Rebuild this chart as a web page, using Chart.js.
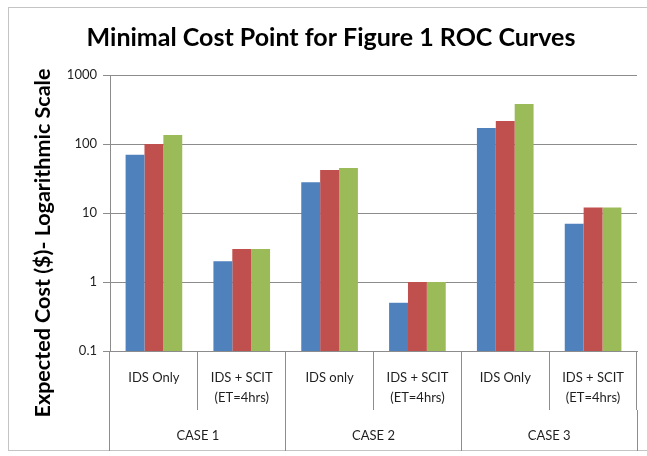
<!DOCTYPE html>
<html><head><meta charset="utf-8">
<script src="https://cdn.jsdelivr.net/npm/chart.js@4/dist/chart.umd.min.js"></script>
<style>html,body{margin:0;padding:0;background:#fff}#wrap{width:647px;height:456px}</style>
</head><body><div id="wrap"><canvas id="c" width="647" height="456"></canvas></div>
<script>
const categories = [['IDS Only'], ['IDS + SCIT', '(ET=4hrs)'], ['IDS only'], ['IDS + SCIT', '(ET=4hrs)'], ['IDS Only'], ['IDS + SCIT', '(ET=4hrs)']];
const cases = ['CASE 1', 'CASE 2', 'CASE 3'];
const seriesBlue = [70, 2, 28, 0.5, 170, 7];
const seriesRed = [100, 3, 42, 1, 215, 12];
const seriesGreen = [135, 3, 45, 1, 380, 12];
const yTicks = [0.1, 1, 10, 100, 1000];
const titleText = 'Minimal Cost Point for Figure 1 ROC Curves';
const yTitleText = 'Expected Cost ($)- Logarithmic Scale';

const gridColor = '#8c8c8c';
const textColor = '#1f1f1f';

const decor = {
  id: 'decor',
  beforeDraw(chart) {
    const ctx = chart.ctx;
    ctx.save();
    ctx.fillStyle = '#fff';
    ctx.fillRect(0, 0, chart.width, chart.height);
    ctx.strokeStyle = '#c4c4c4';
    ctx.lineWidth = 1;
    ctx.strokeRect(8.5, 7.5, chart.width + 10, 443);
    ctx.restore();
  },
  afterDraw(chart) {
    const ctx = chart.ctx;
    ctx.save();
    ctx.translate(43, 243);
    ctx.rotate(-Math.PI / 2);
    ctx.font = 'bold 18px Lato';
    const w = ctx.measureText(yTitleText).width;
    const size = 18 * 349 / w;
    ctx.font = 'bold ' + size.toFixed(2) + 'px Lato';
    ctx.fillStyle = '#000';
    ctx.textAlign = 'center';
    ctx.textBaseline = 'middle';
    ctx.fillText(yTitleText, 0, 0);
    ctx.restore();
  }
};

const tickFont = { family: 'Lato', size: 13 };

new Chart(document.getElementById('c'), {
  type: 'bar',
  data: {
    labels: categories,
    datasets: [
      { label: 'Series 1', data: seriesBlue, backgroundColor: '#4F81BD', xAxisID: 'x', yAxisID: 'y' },
      { label: 'Series 2', data: seriesRed, backgroundColor: '#C0504D', xAxisID: 'x', yAxisID: 'y' },
      { label: 'Series 3', data: seriesGreen, backgroundColor: '#9BBB59', xAxisID: 'x', yAxisID: 'y' }
    ]
  },
  plugins: [decor],
  options: {
    responsive: false,
    animation: false,
    devicePixelRatio: 1,
    layout: { padding: { left: 25, right: 10, top: 0, bottom: 5 } },
    datasets: { bar: { categoryPercentage: 0.645, barPercentage: 1 } },
    plugins: {
      legend: { display: false },
      tooltip: { enabled: false },
      title: {
        display: true,
        text: titleText,
        color: '#000',
        font: { family: 'Lato', size: 25, weight: 'bold' },
        padding: { top: 23, bottom: 22 }
      }
    },
    scales: {
      x: {
        type: 'category',
        position: 'bottom',
        weight: 1,
        offset: true,
        grid: { offset: true, drawOnChartArea: false, drawTicks: true, tickLength: 59, color: gridColor },
        border: { display: true, color: gridColor },
        ticks: { padding: -42, font: { family: 'Lato', size: 13, lineHeight: 1.54 }, color: textColor, maxRotation: 0, minRotation: 0, autoSkip: false },
        afterFit(s) { s.height = 59; }
      },
      x2: {
        type: 'category',
        labels: cases,
        position: 'bottom',
        weight: 2,
        offset: true,
        grid: { offset: true, drawOnChartArea: false, drawTicks: true, tickLength: 41, color: gridColor },
        border: { display: false },
        ticks: { padding: -23, font: tickFont, color: textColor, maxRotation: 0, minRotation: 0, autoSkip: false },
        afterFit(s) { s.height = 41; }
      },
      y: {
        type: 'logarithmic',
        min: 0.1,
        max: 1000,
        afterBuildTicks(s) { s.ticks = yTicks.map(v => ({ value: v })); },
        ticks: { callback: v => String(v), padding: 6, font: tickFont, color: textColor },
        grid: { color: gridColor, tickLength: 7 },
        border: { color: gridColor },
        afterFit(s) { s.width = 85; }
      }
    }
  }
});
</script>
</body></html>
